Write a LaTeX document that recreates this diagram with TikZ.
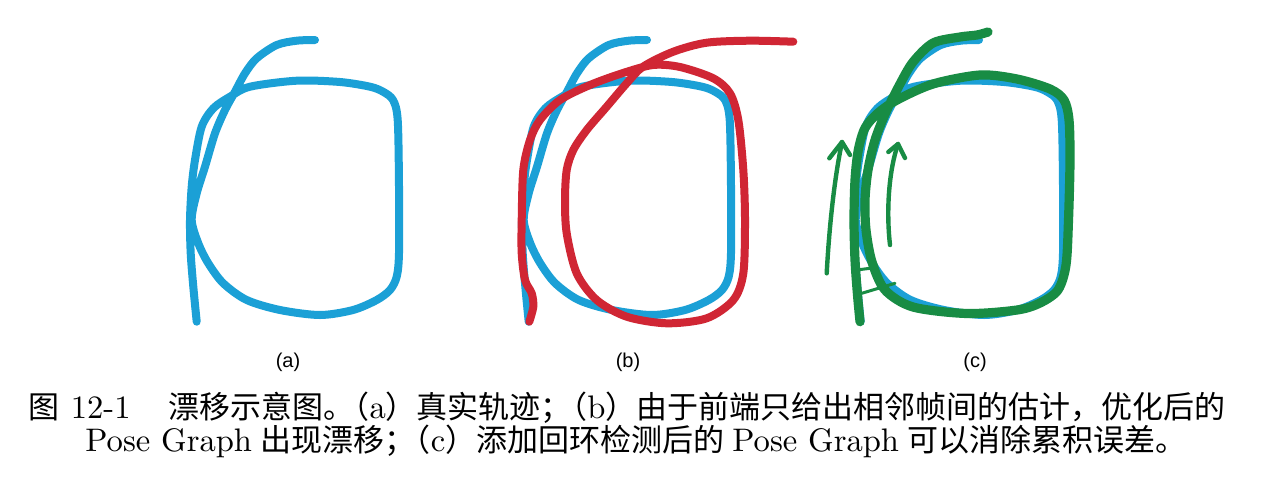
\documentclass[tikz,border=0pt]{standalone}
\usepackage{fontspec}
\setmainfont{lmroman10-regular}[Extension=.otf]
\newfontfamily\cjk[Scale=0.951]{Noto Sans CJK SC}
\newfontfamily\labfont{Liberation Sans}
\definecolor{tblue}{RGB}{27,160,214}
\definecolor{tred}{RGB}{208,38,52}
\definecolor{tgreen}{RGB}{24,140,68}
\tikzset{
  traj/.style={line width=4pt, line cap=round, line join=round},
  greentraj/.style={line width=4.6pt, line cap=round, line join=round, tgreen},
  arrowline/.style={line width=2.2pt, line cap=round, line join=round, tgreen},
  ladder/.style={line width=1.5pt, line cap=round, tgreen},
  lab/.style={font=\labfont\fontsize{10}{12}\selectfont, inner sep=0pt},
  captext/.style={font=\fontsize{16.3}{19}\selectfont, inner sep=0pt}
}
\newcommand\bluetrajpath{plot[smooth, tension=0.5] coordinates {
 (196.7,321.7) (193.3,286.7) (190.7,253.3) (190,220) (191.7,186.7) (195,160)
 (201.7,126.7) (213.3,108.3) (230,96.7) (250,86.7) (296.7,80.7) (340,82)
 (370,86.7) (383,91.7) (393,100) (397.7,120) (399,186.7) (399,253)
 (396.7,276.7) (390,290) (376.7,300) (353,310) (320,315) (280,310)
 (246.7,300) (223.3,283.3) (208.3,263.3) (198.3,243.3) (191.7,220)
 (196.7,193.3) (205,166.7) (215,133.3) (225,110) (235,91.7) (245,73.3)
 (256.7,58.3) (276.7,45) (296.7,40.7) (315,40)}}
\begin{document}
\begin{tikzpicture}[x=0.5pt,y=-0.5pt]
\useasboundingbox (0,0) rectangle (1288,498);
\fill[white] (0,0) rectangle (1288,498);

% (a)
\draw[traj,tblue] \bluetrajpath;

% (b)
\draw[traj,tblue,shift={(332,0)}] \bluetrajpath;
\draw[traj,tred] plot[smooth, tension=0.5] coordinates {
 (529.3,321.7) (533.3,306.7) (531.7,293.3) (525,280) (521.7,253.3)
 (521.7,220) (523.3,170) (530,140) (540,120) (560,100) (590,85)
 (623,73) (653,65) (680,67) (713.3,78.3) (730,93.3) (738.3,120) (743.3,170)
 (745,220) (743.3,273.3) (733.3,300) (706.7,318.3) (666.7,323.3)
 (626.7,316.7) (596.7,300) (576.7,273.3) (566.7,233.3) (565,200)
 (566.7,170) (573.3,150) (586.7,130) (606.7,106.7) (626.7,83.3)
 (643,66.7) (673.3,51.7) (706.7,42.7) (750,40.7) (793.3,41.7)};

% (c)
\draw[traj,tblue,shift={(664,0)}] \bluetrajpath;
\draw[greentraj] plot[smooth, tension=0.5] coordinates {
 (860,321.7) (857.5,295) (855,260) (854,220) (855,180) (858.3,150)
 (865,128) (878,113) (897,100) (933,84) (980,75) (1017,79) (1050,89)
 (1064,100) (1069,120) (1070,160) (1068.5,220) (1066,265) (1058,290)
 (1040,303) (1017,310) (967,313.5) (913,307) (885,290) (872,262)
 (866,230) (865,200) (868,170) (875,140) (886,112) (900,84) (913,62)
 (933,43) (960,37) (977,35) (988,32)};
\draw[ladder] (856.7,270) -- (870,268.3);
\draw[ladder] (861.7,293.3) -- (895,283.3);
\draw[arrowline] (826.7,273.3) .. controls (829,230) and (834,180) .. (842,142);
\draw[arrowline] (829.3,158.3) -- (842,142) -- (850,155);
\draw[arrowline] (890,245) .. controls (886,210) and (889,170) .. (898,144);
\draw[arrowline] (888.3,152) -- (898,144) -- (905,158);

% sub-labels
\node[lab] (la) at (288,362) {(a)};
\node[lab] (lb) at (628,362) {(b)};
\node[lab] (lc) at (975,362) {(c)};

% caption
\node[captext, anchor=base west] (cap1) at (28,418)
 {{\cjk 图}\hspace{0.35em}12-1\hspace{1.15em}{\cjk 漂移示意图。\hspace{-0.5em}（}a{\cjk ）真实轨迹；\hspace{-0.5em}（}b{\cjk ）由于前端只给出相邻帧间的估计，优化后的}};
\node[captext, anchor=base west] (cap2) at (85,451)
 {Pose Graph\hspace{0.25em}{\cjk 出现漂移；\hspace{-0.5em}（}c{\cjk ）添加回环检测后的}\hspace{0.25em}Pose Graph\hspace{0.25em}{\cjk 可以消除累积误差。}};
\end{tikzpicture}
\end{document}
